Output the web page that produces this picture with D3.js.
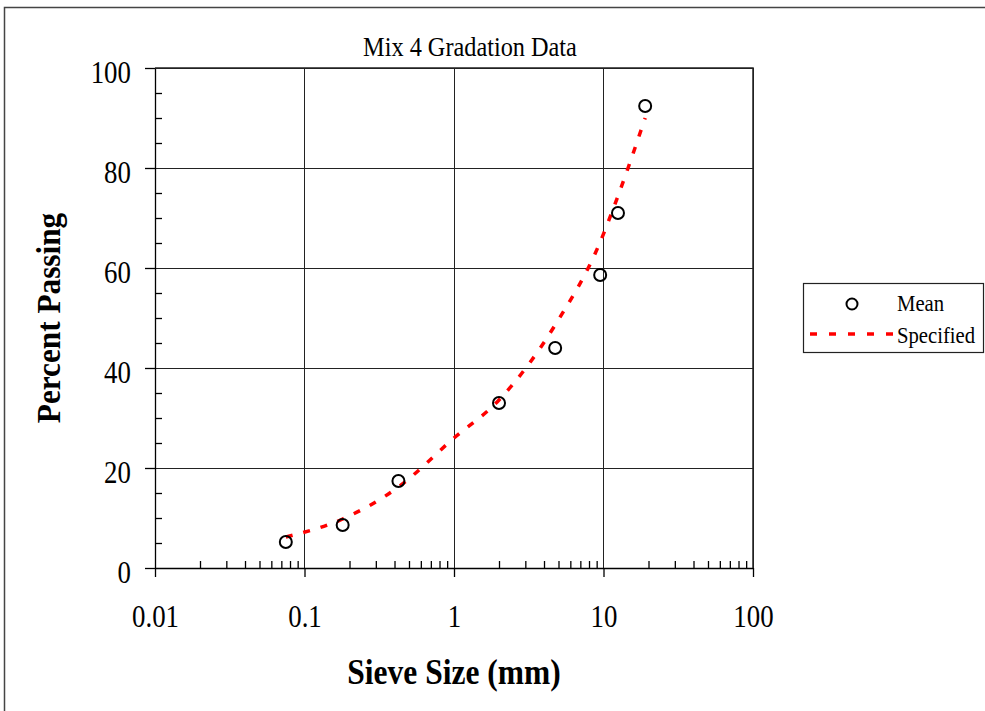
<!DOCTYPE html>
<html>
<head>
<meta charset="utf-8">
<script src="https://cdn.jsdelivr.net/npm/d3@7"></script>
<style>
  body { margin: 0; background: #fff; }
  text { font-family: 'Liberation Serif', 'Times New Roman', serif; fill: #000; }
</style>
</head>
<body>
<div id="chart"></div>
<script>
// Data
const meanSieve = [0.075, 0.18, 0.425, 2.0, 4.75, 9.5, 12.5, 19]
const meanPassing = [5.2, 8.6, 17.4, 33.0, 44.0, 58.6, 71.0, 92.4]
const specSieve = [0.075, 0.18, 0.425, 1.0, 2.0, 4.75, 9.5, 12.5, 19]
const specPassing = [6.2, 9.8, 16.2, 26.0, 33.6, 48.6, 65.2, 74.4, 90.0]
const xTickLabels = ['0.01', '0.1', '1', '10', '100']
const yTickLabels = [0, 20, 40, 60, 80, 100]

// Canvas
const width = 985,
  height = 711,
  plotLeft = 155,
  plotRight = 753,
  plotTop = 68,
  plotBottom = 568

let svg = d3.select('#chart')
  .append('svg')
  .attr('width', width)
  .attr('height', height)

// outer chart border
svg.append('rect')
  .attr('x', 4.5).attr('y', 7.5)
  .attr('width', 1000).attr('height', 720)
  .attr('fill', 'none')
  .attr('stroke', '#444')
  .attr('stroke-width', 1.5)

let xScale = d3.scaleLog()
  .domain([0.01, 100])
  .range([plotLeft, plotRight])
let yScale = d3.scaleLinear()
  .domain([0, 100])
  .range([plotBottom, plotTop])

const decades = xTickLabels.map(Number)
const minorX = xScale.ticks().filter(d => !decades.some(p => Math.abs(d - p) < 1e-9))
const minorY = d3.range(5, 100, 5).filter(d => d % 20 !== 0)

// tick labels in the picture are a narrow serif, so squeeze them a bit
let condense = (sel, dx, dy) => {
  sel.attr('x', 0).attr('y', 0).attr('dy', null)
    .style('font-size', '32px')
    .attr('transform', `translate(${dx}, ${dy}) scale(0.84, 1)`)
}

let grid = svg.append('g')
  .attr('stroke', '#222')
  .attr('stroke-width', 1)
  .attr('shape-rendering', 'crispEdges')

grid.selectAll('.hgrid')
  .data(yTickLabels.slice(1))
  .enter()
  .append('line')
  .attr('x1', plotLeft).attr('x2', plotRight)
  .attr('y1', d => yScale(d)).attr('y2', d => yScale(d))

grid.selectAll('.vgrid')
  .data(decades.slice(1))
  .enter()
  .append('line')
  .attr('x1', d => xScale(d)).attr('x2', d => xScale(d))
  .attr('y1', plotTop).attr('y2', plotBottom)

// axes: major ticks outside, minor ticks inside
let xAxis = d3.axisBottom(xScale)
  .tickValues(decades)
  .tickFormat((d, i) => xTickLabels[i])
  .tickSizeInner(9)
  .tickSizeOuter(0)
let gx = svg.append('g')
  .attr('transform', `translate(0, ${plotBottom})`)
  .call(xAxis)
gx.attr('font-family', null).attr('font-size', null)
gx.selectAll('text').call(condense, 0, 59)
gx.selectAll('line, path').attr('stroke', '#000').attr('stroke-width', 1.3)

svg.append('g')
  .attr('transform', `translate(0, ${plotBottom})`)
  .call(d3.axisTop(xScale).tickValues(minorX).tickSize(7).tickFormat(''))
  .call(g => g.select('.domain').remove())
  .selectAll('line').attr('stroke', '#000').attr('stroke-width', 1.3)

let yAxis = d3.axisLeft(yScale)
  .tickValues(yTickLabels)
  .tickSizeInner(10)
  .tickSizeOuter(0)
let gy = svg.append('g')
  .attr('transform', `translate(${plotLeft}, 0)`)
  .call(yAxis)
gy.attr('font-family', null).attr('font-size', null)
gy.selectAll('text').call(condense, -24, 14)
gy.selectAll('line, path').attr('stroke', '#000').attr('stroke-width', 1.3)

svg.append('g')
  .attr('transform', `translate(${plotLeft}, 0)`)
  .call(d3.axisRight(yScale).tickValues(minorY).tickSize(7).tickFormat(''))
  .call(g => g.select('.domain').remove())
  .selectAll('line').attr('stroke', '#000').attr('stroke-width', 1.3)

// plot area top and right border
svg.append('path')
  .attr('d', `M${plotLeft},${plotTop}H${plotRight}V${plotBottom}`)
  .attr('fill', 'none')
  .attr('stroke', '#222')
  .attr('stroke-width', 1.5)

// specified curve
let specLine = d3.line()
  .x(d => xScale(d[0]))
  .y(d => yScale(d[1]))
  .curve(d3.curveMonotoneX)
svg.append('path')
  .datum(d3.zip(specSieve, specPassing))
  .attr('d', specLine)
  .attr('fill', 'none')
  .attr('stroke', '#ff0000')
  .attr('stroke-width', 3.5)
  .attr('stroke-dasharray', '7,11')

// mean points
svg.selectAll('.mean')
  .data(d3.zip(meanSieve, meanPassing))
  .enter()
  .append('circle')
  .attr('cx', d => xScale(d[0]))
  .attr('cy', d => yScale(d[1]))
  .attr('r', 6)
  .attr('fill', 'none')
  .attr('stroke', '#000')
  .attr('stroke-width', 2)

// titles
svg.append('text')
  .attr('transform', 'translate(470, 56) scale(0.9, 1)')
  .attr('text-anchor', 'middle')
  .style('font-size', '27px')
  .text('Mix 4 Gradation Data')

svg.append('text')
  .attr('transform', 'translate(454, 684) scale(0.9, 1)')
  .attr('text-anchor', 'middle')
  .style('font-size', '35px')
  .style('font-weight', 'bold')
  .text('Sieve Size (mm)')

svg.append('text')
  .attr('transform', 'translate(60, 318) rotate(-90) scale(0.92, 1)')
  .attr('text-anchor', 'middle')
  .style('font-size', '34px')
  .style('font-weight', 'bold')
  .text('Percent Passing')

// legend
let legend = svg.append('g')
legend.append('rect')
  .attr('x', 803.5).attr('y', 283.5)
  .attr('width', 180).attr('height', 69)
  .attr('fill', '#fff')
  .attr('stroke', '#222')
  .attr('stroke-width', 1.2)
legend.append('circle')
  .attr('cx', 852).attr('cy', 304)
  .attr('r', 5.5)
  .attr('fill', 'none')
  .attr('stroke', '#000')
  .attr('stroke-width', 2)
legend.append('line')
  .attr('x1', 810).attr('x2', 896)
  .attr('y1', 334).attr('y2', 334)
  .attr('stroke', '#ff0000')
  .attr('stroke-width', 3.5)
  .attr('stroke-dasharray', '7,12')
legend.append('text')
  .attr('transform', 'translate(897, 311) scale(0.9, 1)')
  .style('font-size', '23px')
  .text('Mean')
legend.append('text')
  .attr('transform', 'translate(897, 343) scale(0.9, 1)')
  .style('font-size', '23px')
  .text('Specified')
</script>
</body>
</html>
